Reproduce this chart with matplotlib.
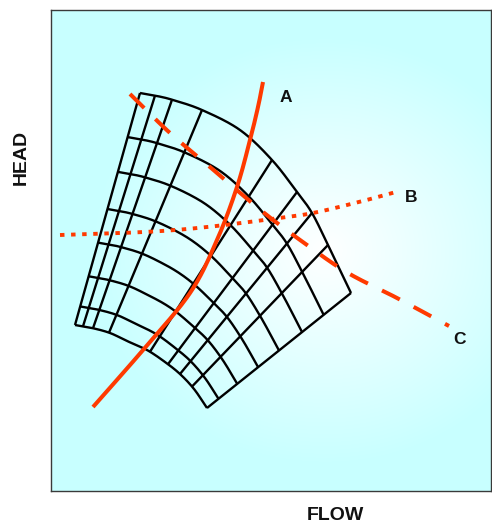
import numpy as np
import matplotlib
matplotlib.use('Agg')
import matplotlib.pyplot as plt

plt.rcParams['font.family'] = ['Liberation Sans', 'DejaVu Sans']

W, H = 492, 527
AX_L, AX_R, AX_T, AX_B = 51, 491, 10, 491

# ---- data (pixel coordinates) ----
# boundary curves of the mesh
top_x = [140, 157, 173, 202, 240, 272, 297, 312, 328, 351]
top_y = [93, 96, 100, 110, 130, 160, 192, 213, 245, 293]
bot_x = [75, 92, 110, 127, 147, 165, 180, 194, 207]
bot_y = [325, 328, 333, 341, 350, 362, 374, 389, 408]

# cross lines: x where each meets the top curve and the bottom curve
line_top_x = [140, 155, 172, 202, 272, 297, 312, 328, 351]
line_bot_x = [75, 83, 93, 109, 150, 168, 180, 192, 207]
# curved lines: fractional position between top and bottom curve
curve_v = [0, 0.19, 0.34, 0.50, 0.645, 0.79, 0.92, 1.0]

# red system curves
A_x = [93, 143, 190, 217, 237, 250, 258, 263]
A_y = [407, 350, 293, 240, 187, 140, 107, 82]
B_x = [60, 150, 210, 277, 313, 360, 397]
B_y = [235, 231.7, 226.7, 218.3, 213, 201.7, 191.7]
C_x = [130, 170, 210, 263, 307, 348, 397, 449]
C_y = [94, 133, 167, 212, 245, 273, 298, 326]

labels = ['A', 'B', 'C']
label_x = [286, 411, 459]
label_y = [98, 198, 340]

RED = '#ff3a00'


def smooth(xs, ys, n=24):
    p = np.column_stack([xs, ys]).astype(float)
    p = np.vstack([2 * p[0] - p[1], p, 2 * p[-1] - p[-2]])
    t = np.linspace(0, 1, n, endpoint=False)[:, None]
    out = []
    for i in range(1, len(p) - 2):
        p0, p1, p2, p3 = p[i - 1], p[i], p[i + 1], p[i + 2]
        seg = 0.5 * ((2 * p1) + (-p0 + p2) * t
                     + (2 * p0 - 5 * p1 + 4 * p2 - p3) * t ** 2
                     + (-p0 + 3 * p1 - 3 * p2 + p3) * t ** 3)
        out.append(seg)
    out.append(p[-2][None, :])
    return np.vstack(out)


fig = plt.figure(figsize=(W / 100, H / 100), dpi=100)
ax = fig.add_axes([AX_L / W, 1 - AX_B / H, (AX_R - AX_L) / W, (AX_B - AX_T) / H])
ax.set_xlim(AX_L, AX_R)
ax.set_ylim(AX_B, AX_T)
ax.set_xticks([])
ax.set_yticks([])
for s in ax.spines.values():
    s.set_color('#3a3a3a')
    s.set_linewidth(1.0)

# background gradient
yy, xx = np.mgrid[AX_T:AX_B:1.0, AX_L:AX_R:1.0]
r = np.sqrt(((xx - 325) / 235) ** 2 + ((yy - 250) / 215) ** 2)
t = np.clip(r, 0, 1)[..., None]
edge = np.array([200, 255, 255]) / 255.0
img = (1 - t) * np.ones(3) + t * edge
ax.imshow(img, extent=(AX_L, AX_R, AX_B, AX_T), origin='upper',
          aspect='auto', zorder=0, interpolation='bilinear')

# mesh
ts = smooth(top_x, top_y)
bs = smooth(bot_x, bot_y)


def ytop(x):
    return np.interp(x, ts[:, 0], ts[:, 1])


def ybot(x):
    return np.interp(x, bs[:, 0], bs[:, 1])


idx = np.arange(len(line_top_x))
mt = smooth(idx, line_top_x)
mb = smooth(idx, line_bot_x)
s = np.linspace(0, idx[-1], 500)
xt = np.interp(s, mt[:, 0], mt[:, 1])
xb = np.interp(s, mb[:, 0], mb[:, 1])
for v in curve_v:
    px = (1 - v) * xt + v * xb
    py = (1 - v) * ytop(xt) + v * ybot(xb)
    ax.plot(px, py, color='black', lw=1.7, solid_capstyle='butt', zorder=2)
for a, b in zip(line_top_x, line_bot_x):
    ax.plot([a, b], [ytop(a), ybot(b)], color='black', lw=1.7,
            solid_capstyle='butt', zorder=2)

# red curves
ca = smooth(A_x, A_y)
ax.plot(ca[:, 0], ca[:, 1], color=RED, lw=2.9, solid_capstyle='butt', zorder=3)
cb = smooth(B_x, B_y)
ax.plot(cb[:, 0], cb[:, 1], color=RED, lw=2.8, dashes=(1.15, 1.7),
        dash_capstyle='butt', zorder=3)
cc = smooth(C_x, C_y)
ax.plot(cc[:, 0], cc[:, 1], color=RED, lw=2.9, dashes=(4.95, 3.9),
        dash_capstyle='butt', zorder=3)

for lab, lx, ly in zip(labels, label_x, label_y):
    ax.text(lx, ly, lab, fontsize=12.5, fontweight='bold', color='#111111',
            ha='center', va='center', zorder=4)

fig.text(21 / W, 1 - 157 / H, 'HEAD', rotation=90, fontsize=14,
         fontweight='bold', ha='center', va='center', color='#111111')
fig.text(335 / W, 1 - 516 / H, 'FLOW', fontsize=14, fontweight='bold',
         ha='center', va='center', color='#111111')

fig.savefig('out.png', dpi=100)
